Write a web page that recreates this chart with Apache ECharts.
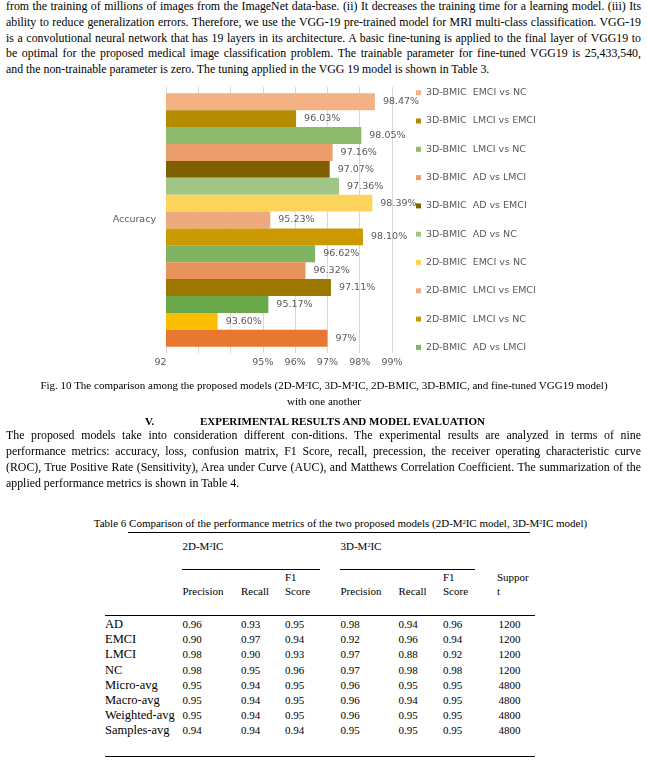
<!DOCTYPE html>
<html>
<head>
<meta charset="utf-8">
<script src="https://cdn.jsdelivr.net/npm/echarts@6/dist/echarts.min.js"></script>
<style>
  html, body { margin:0; padding:0; background:#fff; }
  body { width:647px; height:769px; position:relative; overflow:hidden; font-family:"Liberation Serif","Times New Roman",serif; color:#000; }
  .ln { position:absolute; white-space:nowrap; font-size:11px; line-height:14px; }
  .hr { position:absolute; height:0; border-top:1px solid #000; }
  sup { font-size:6px; vertical-align:top; position:relative; top:-1px; }
  #chart { position:absolute; left:0; top:80px; width:647px; height:300px; }
</style>
</head>
<body>
<div id="chart"></div>
<div id="page"></div>
<script>
// ---------- chart data ----------
const categories = ['Accuracy'];
const seriesNames = [
  '3D-BMIC  EMCI vs NC', '3D-BMIC  LMCI vs EMCI', '3D-BMIC  LMCI vs NC', '3D-BMIC  AD vs LMCI',
  '3D-BMIC  AD vs EMCI', '3D-BMIC  AD vs NC', '2D-BMIC  EMCI vs NC', '2D-BMIC  LMCI vs EMCI',
  '2D-BMIC  LMCI vs NC', '2D-BMIC  AD vs LMCI', '2D-BMIC  AD vs EMCI', '2D-BMIC  AD vs NC',
  '2D-M2IC', 'Fine-tuned VGG19', '3D-M2IC'
];
const accuracyValues = [98.47, 96.03, 98.05, 97.16, 97.07, 97.36, 98.39, 95.23, 98.10, 96.62, 96.32, 97.11, 95.17, 93.60, 97];
const legendShown = seriesNames.slice(0, 10);
const xTickValues = [92, 93, 94, 95, 96, 97, 98, 99];
const xTickLabels = ['92', '', '', '95%', '96%', '97%', '98%', '99%'];

const barColors = ['#F4B183', '#B38A00', '#8DBA6D', '#EA9D6B', '#7F6000', '#A0C585', '#FCD45C', '#EEAA7E',
                   '#CC9A00', '#7EB462', '#E8935C', '#9C7700', '#6AA84A', '#FBBF00', '#E8782F'];

const chart = echarts.init(document.getElementById('chart'), null, {renderer:'canvas'});
const txtFont = 'DejaVu Sans';
const gray = '#595959';
chart.setOption({
  animation:false,
  grid:{ left:166, top:7, width:226, height:266, containLabel:false },
  legend:{
    data: legendShown, orient:'vertical', left:416, top:6.7, padding:0,
    itemWidth:5, itemHeight:5, itemGap:16.3, icon:'rect',
    textStyle:{ fontFamily:txtFont, fontSize:9.5, color:gray, lineHeight:12 }
  },
  xAxis:{
    type:'value', min:92, max:99, interval:1,
    axisLine:{show:false}, axisTick:{show:false},
    splitLine:{ lineStyle:{ color:'#D9D9D9', width:1 } },
    axisLabel:{ margin:5, color:gray, fontFamily:txtFont, fontSize:9.5,
      formatter: v => { const i = xTickValues.indexOf(v); const s = i >= 0 ? xTickLabels[i] : ''; return v === 92 ? '{a|' + s + '}' : s; },
      rich:{ a:{ padding:[0,11,0,0], color:gray, fontFamily:txtFont, fontSize:9.5 } } }
  },
  yAxis:{
    type:'category', data:categories, inverse:true,
    axisLine:{show:false}, axisTick:{show:false},
    axisLabel:{ margin:10, color:gray, fontFamily:txtFont, fontSize:9.5 }
  },
  series: seriesNames.map((name, i) => ({
    name, type:'bar', barGap:'0%', barCategoryGap:'4.74%',
    data:[accuracyValues[i]],
    itemStyle:{ color:barColors[i] },
    label:{ show:true, position:'right', distance:8, color:gray, fontFamily:txtFont, fontSize:9.5,
      formatter: p => (Number.isInteger(p.value) ? String(p.value) : p.value.toFixed(2)) + '%' }
  }))
});

// ---------- page text ----------
const para1 = [
  'from the training of millions of images from the ImageNet data-base. (ii) It decreases the training time for a learning model. (iii) Its',
  'ability to reduce generalization errors. Therefore, we use the VGG-19 pre-trained model for MRI multi-class classification. VGG-19',
  'is a convolutional neural network that has 19 layers in its architecture. A basic fine-tuning is applied to the final layer of VGG19 to',
  'be optimal for the proposed medical image classification problem. The trainable parameter for fine-tuned VGG19 is 25,433,540,',
  'and the non-trainable parameter is zero. The tuning applied in the VGG 19 model is shown in Table 3.'
];
const para1Y = [6, 21.8, 37.6, 53.4, 69.2];
const para2 = [
  'The proposed models take into consideration different con-ditions. The experimental results are analyzed in terms of nine',
  'performance metrics: accuracy, loss, confusion matrix, F1 Score, recall, precession, the receiver operating characteristic curve',
  '(ROC), True Positive Rate (Sensitivity), Area under Curve (AUC), and Matthews Correlation Coefficient. The summarization of the',
  'applied performance metrics is shown in Table 4.'
];
const para2Y = [435.3, 451.1, 466.9, 482.7];
const tableRows = ['AD', 'EMCI', 'LMCI', 'NC', 'Micro-avg', 'Macro-avg', 'Weighted-avg', 'Samples-avg'];
const tableValues = [
  ['0.96','0.93','0.95','0.98','0.94','0.96','1200'],
  ['0.90','0.97','0.94','0.92','0.96','0.94','1200'],
  ['0.98','0.90','0.93','0.97','0.88','0.92','1200'],
  ['0.98','0.95','0.96','0.97','0.98','0.98','1200'],
  ['0.95','0.94','0.95','0.96','0.95','0.95','4800'],
  ['0.95','0.94','0.95','0.96','0.94','0.95','4800'],
  ['0.95','0.94','0.95','0.96','0.95','0.95','4800'],
  ['0.94','0.94','0.94','0.95','0.95','0.95','4800']
];
const rowY = [624, 639.2, 654.4, 669.6, 684.8, 700, 715.2, 730.4];
const colX = [182.5, 241, 285, 340.5, 398.5, 443, 498.5];

const page = document.getElementById('page');
function addLine(html, x, yc, opts = {}) {
  const d = document.createElement('div');
  d.className = 'ln';
  d.innerHTML = html;
  d.style.left = x + 'px';
  d.style.top = (yc - 7) + 'px';
  if (opts.bold) d.style.fontWeight = 'bold';
  if (opts.size) d.style.fontSize = opts.size + 'px';
  page.appendChild(d);
  if (opts.width) {
    const w = d.getBoundingClientRect().width;
    const spaces = (d.textContent.match(/ /g) || []).length;
    if (spaces) d.style.wordSpacing = ((opts.width - w) / spaces) + 'px';
  }
  if (opts.center !== undefined) {
    const w = d.getBoundingClientRect().width;
    d.style.left = (opts.center - w / 2) + 'px';
  }
  return d;
}
function addRule(x1, x2, y) {
  const d = document.createElement('div');
  d.className = 'hr';
  d.style.left = x1 + 'px'; d.style.width = (x2 - x1) + 'px'; d.style.top = y + 'px';
  page.appendChild(d);
}
const pSize = 11.85;
para1.forEach((t, i) => addLine(t, 6, para1Y[i], i < para1.length - 1 ? {width:635, size:pSize} : {size:pSize}));
addLine('Fig. 10 The comparison among the proposed models (2D-M<sup>2</sup>IC, 3D-M<sup>2</sup>IC, 2D-BMIC, 3D-BMIC, and fine-tuned VGG19 model)', 0, 385, {center:324});
addLine('with one another', 0, 401, {center:324});
addLine('V.', 145, 421, {bold:true});
addLine('EXPERIMENTAL RESULTS AND MODEL EVALUATION', 200, 421, {bold:true});
para2.forEach((t, i) => addLine(t, 6, para2Y[i], i < para2.length - 1 ? {width:635, size:pSize} : {size:pSize}));
addLine('Table 6 Comparison of the performance metrics of the two proposed models (2D-M<sup>2</sup>IC model, 3D-M<sup>2</sup>IC model)', 0, 523, {center:340.5});
addRule(128, 530, 532);
addLine('2D-M<sup>2</sup>IC', 182.5, 546);
addLine('3D-M<sup>2</sup>IC', 340.5, 546);
addRule(182, 320, 569);
addRule(340, 475, 569);
addLine('F1', 285, 577); addLine('F1', 443, 577); addLine('Suppor', 497, 577);
['Precision','Recall','Score','Precision','Recall','Score'].forEach((t, i) => addLine(t, colX[i], 591));
addLine('t', 497, 591);
addRule(105, 535, 615);
tableRows.forEach((r, i) => {
  addLine(r, 105, rowY[i], {size:12.5});
  tableValues[i].forEach((v, j) => addLine(v, colX[j], rowY[i]));
});
addRule(105, 535, 756);
</script>
</body>
</html>
